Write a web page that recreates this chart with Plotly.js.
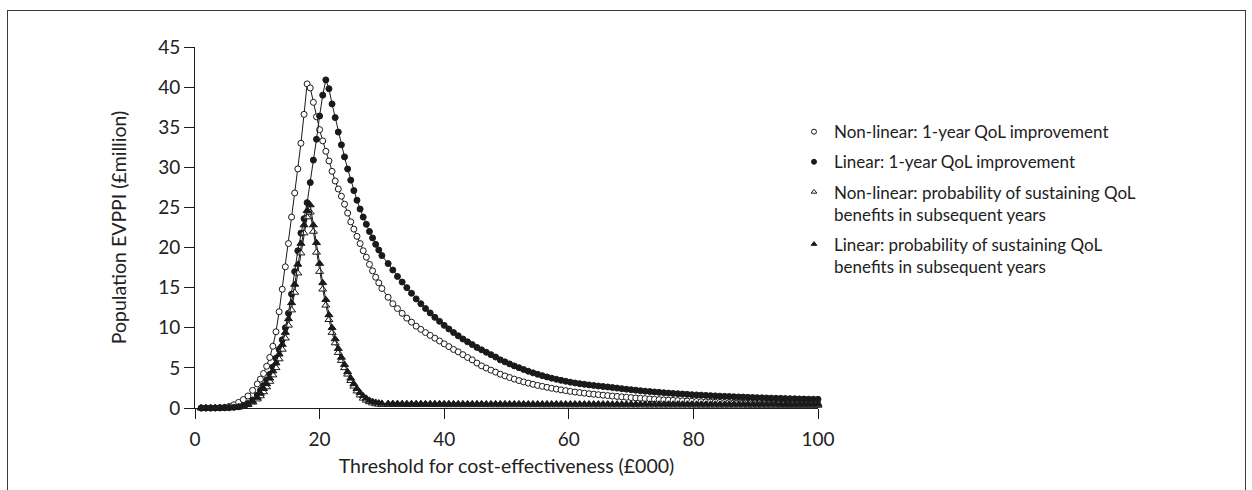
<!DOCTYPE html>
<html>
<head>
<meta charset="utf-8">
<script src="https://cdn.plot.ly/plotly-3.0.1.min.js"></script>
<style>
  html, body { margin: 0; padding: 0; background: #fff; overflow: hidden; }
  #wrap { position: relative; width: 1252px; height: 490px; }
  #chart { width: 1252px; height: 490px; }
  #frame { position: absolute; left: 7px; top: 10px; width: 1237px; height: 500px;
           border: 1px solid #3a3a3a; pointer-events: none; }
</style>
</head>
<body>
<div id="wrap"><div id="chart"></div><div id="frame"></div></div>
<script>
// Threshold for cost-effectiveness (£000)
const thresholds = [
  1, 1.75, 2.5, 3.25, 4, 4.75, 5.5, 6.25, 7, 7.75, 8.5, 9.25, 10,
  10.5, 11, 11.5, 12, 12.5, 13, 13.5, 14, 14.5, 15, 15.5, 16, 16.5, 17, 17.5, 18, 18.5, 19, 19.5, 20,
  20.5, 21, 21.5, 22, 22.5, 23, 23.5, 24, 24.5, 25, 25.5, 26, 26.5, 27, 27.5, 28, 28.5, 29, 29.5, 30,
  31, 31.75, 32.5, 33.25, 34, 34.75, 35.5, 36.25, 37, 37.75,
  38.5, 39.25, 40, 40.75, 41.5, 42.25, 43, 43.75, 44.5, 45.25,
  46, 46.75, 47.5, 48.25, 49, 49.75, 50.5, 51.25, 52, 52.75,
  53.5, 54.25, 55, 55.75, 56.5, 57.25, 58, 58.75, 59.5, 60.25,
  61, 61.75, 62.5, 63.25, 64, 64.75, 65.5, 66.25, 67, 67.75,
  68.5, 69.25, 70, 70.75, 71.5, 72.25, 73, 73.75, 74.5, 75.25,
  76, 76.75, 77.5, 78.25, 79, 79.75, 80.5, 81.25, 82, 82.75,
  83.5, 84.25, 85, 85.75, 86.5, 87.25, 88, 88.75, 89.5, 90.25,
  91, 91.75, 92.5, 93.25, 94, 94.75, 95.5, 96.25, 97, 97.75,
  98.5, 99.25, 100
];

// Non-linear: 1-year QoL improvement (open circles)
const nonLinear1yr = [
  0, 0, 0, 0.01, 0.03, 0.08, 0.2, 0.4, 0.7, 1.05, 1.5, 2.2, 3.0,
  3.6, 4.3, 5.2, 6.3, 7.7, 9.5, 12.0, 14.8, 17.6, 20.5, 23.8, 26.8, 29.8, 33.0, 36.6, 40.4, 39.9, 38.1, 36.3, 34.7,
  33.3, 32.0, 30.8, 29.5, 28.3, 27.3, 26.4, 25.4, 24.3, 23.2, 22.3, 21.4, 20.5, 19.6, 18.8, 17.9, 17.1, 16.3, 15.6, 14.9,
  13.8, 13.0, 12.4, 11.8, 11.2, 10.7, 10.2, 9.8, 9.4, 9.05,
  8.7, 8.35, 8.0, 7.65, 7.3, 7.0, 6.65, 6.3, 6.0, 5.6,
  5.25, 4.98, 4.72, 4.47, 4.22, 4.0, 3.8, 3.6, 3.42, 3.25,
  3.1, 2.95, 2.82, 2.7, 2.58, 2.46, 2.36, 2.26, 2.16, 2.07,
  1.99, 1.92, 1.85, 1.78, 1.72, 1.66, 1.6, 1.55, 1.49, 1.44,
  1.39, 1.34, 1.3, 1.25, 1.21, 1.17, 1.13, 1.09, 1.05, 1.01,
  0.98, 0.95, 0.92, 0.89, 0.86, 0.83, 0.81, 0.78, 0.76, 0.74,
  0.72, 0.70, 0.68, 0.66, 0.64, 0.63, 0.61, 0.60, 0.58, 0.57,
  0.55, 0.54, 0.53, 0.52, 0.51, 0.50, 0.49, 0.48, 0.47, 0.46,
  0.45, 0.44, 0.43
];

// Linear: 1-year QoL improvement (filled circles)
const linear1yr = [
  0, 0, 0, 0, 0.01, 0.02, 0.04, 0.08, 0.15, 0.3, 0.55, 1.0, 1.6,
  2.2, 2.8, 3.5, 4.2, 5.1, 6.2, 7.3, 8.5, 10.0, 11.8, 14.2, 17.0, 19.6, 21.8, 23.6, 25.6, 28.1, 30.9, 33.5, 36.4,
  39.0, 40.9, 39.8, 37.9, 36.2, 34.4, 32.8, 31.3, 29.8, 28.4, 27.1, 25.9, 24.8, 23.8, 22.9, 22.0, 21.2, 20.4, 19.7, 19.0,
  18.0, 17.2, 16.4, 15.7, 15.0, 14.3, 13.6, 13.0, 12.4, 11.85,
  11.3, 10.8, 10.3, 9.85, 9.4, 9.0, 8.6, 8.25, 7.9, 7.55,
  7.25, 6.95, 6.65, 6.35, 6.0, 5.75, 5.5, 5.25, 5.02, 4.8,
  4.58, 4.38, 4.2, 4.03, 3.87, 3.72, 3.58, 3.45, 3.33, 3.22,
  3.12, 3.03, 2.95, 2.88, 2.81, 2.74, 2.68, 2.62, 2.55, 2.48,
  2.41, 2.34, 2.28, 2.22, 2.16, 2.1, 2.05, 2.0, 1.95, 1.9,
  1.86, 1.82, 1.78, 1.74, 1.7, 1.66, 1.63, 1.6, 1.57, 1.54,
  1.51, 1.48, 1.45, 1.43, 1.4, 1.38, 1.36, 1.33, 1.31, 1.29,
  1.27, 1.25, 1.23, 1.21, 1.2, 1.18, 1.16, 1.15, 1.13, 1.12,
  1.1, 1.09, 1.08
];

// Non-linear: probability of sustaining QoL benefits (open triangles)
const nonLinearProb = [
  0, 0, 0, 0, 0, 0.01, 0.02, 0.05, 0.1, 0.2, 0.4, 0.7, 1.1,
  1.5, 2.0, 2.6, 3.3, 4.1, 5.0, 6.1, 7.3, 8.7, 10.3, 12.2, 14.4, 16.8, 19.3, 21.8, 23.8, 24.4, 22.0, 19.4, 17.0,
  14.8, 12.8, 11.0, 9.4, 8.1, 6.9, 5.9, 5.0, 4.2, 3.4, 2.7, 2.1, 1.6, 1.2, 0.95, 0.75, 0.6, 0.5, 0.45, 0.42,
  0.41, 0.41, 0.41, 0.40, 0.40, 0.40, 0.40, 0.40, 0.40, 0.40,
  0.40, 0.40, 0.39, 0.39, 0.39, 0.39, 0.39, 0.39, 0.39, 0.39,
  0.39, 0.39, 0.38, 0.38, 0.38, 0.38, 0.38, 0.38, 0.38, 0.38,
  0.38, 0.38, 0.38, 0.37, 0.37, 0.37, 0.37, 0.37, 0.37, 0.37,
  0.37, 0.37, 0.37, 0.37, 0.36, 0.36, 0.36, 0.36, 0.36, 0.36,
  0.36, 0.36, 0.36, 0.36, 0.36, 0.35, 0.35, 0.35, 0.35, 0.35,
  0.35, 0.35, 0.35, 0.35, 0.35, 0.35, 0.34, 0.34, 0.34, 0.34,
  0.34, 0.34, 0.34, 0.34, 0.34, 0.34, 0.34, 0.33, 0.33, 0.33,
  0.33, 0.33, 0.33, 0.33, 0.33, 0.33, 0.33, 0.33, 0.33, 0.32,
  0.32, 0.32, 0.32
];

// Linear: probability of sustaining QoL benefits (filled triangles)
const linearProb = [
  0, 0, 0, 0, 0.01, 0.02, 0.04, 0.07, 0.13, 0.25, 0.45, 0.8, 1.3,
  1.8, 2.4, 3.0, 3.7, 4.6, 5.6, 6.7, 7.9, 9.4, 11.1, 13.1, 15.4, 17.9, 20.5, 22.8, 24.6, 25.3, 22.8, 20.6, 18.0,
  15.6, 13.5, 11.6, 10.0, 8.6, 7.4, 6.3, 5.4, 4.5, 3.7, 3.0, 2.4, 1.9, 1.5, 1.2, 0.95, 0.8, 0.7, 0.62, 0.57,
  0.55, 0.55, 0.55, 0.54, 0.54, 0.54, 0.54, 0.54, 0.53, 0.53,
  0.53, 0.53, 0.53, 0.53, 0.52, 0.52, 0.52, 0.52, 0.52, 0.52,
  0.52, 0.51, 0.51, 0.51, 0.51, 0.51, 0.51, 0.51, 0.51, 0.50,
  0.50, 0.50, 0.50, 0.50, 0.50, 0.50, 0.50, 0.50, 0.49, 0.49,
  0.49, 0.49, 0.49, 0.49, 0.49, 0.49, 0.49, 0.49, 0.48, 0.48,
  0.48, 0.48, 0.48, 0.48, 0.48, 0.48, 0.48, 0.48, 0.48, 0.47,
  0.47, 0.47, 0.47, 0.47, 0.47, 0.47, 0.47, 0.47, 0.47, 0.47,
  0.47, 0.46, 0.46, 0.46, 0.46, 0.46, 0.46, 0.46, 0.46, 0.46,
  0.46, 0.46, 0.46, 0.46, 0.45, 0.45, 0.45, 0.45, 0.45, 0.45,
  0.45, 0.45, 0.45
];

const seriesNames = [
  'Non-linear: 1-year QoL improvement',
  'Linear: 1-year QoL improvement',
  'Non-linear: probability of sustaining QoL<br>benefits in subsequent years',
  'Linear: probability of sustaining QoL<br>benefits in subsequent years'
];

const xTickVals = [0, 20, 40, 60, 80, 100];
const yTickVals = [0, 5, 10, 15, 20, 25, 30, 35, 40, 45];

const ink = '#1a1a1a';
const styles = [
  {symbol: 'circle', color: '#ffffff', size: 6},
  {symbol: 'circle', color: ink, size: 6},
  {symbol: 'triangle-up', color: '#ffffff', size: 7},
  {symbol: 'triangle-up', color: ink, size: 7}
];
const seriesY = [nonLinear1yr, linear1yr, nonLinearProb, linearProb];

const traces = [];
seriesY.forEach((ys, i) => {
  traces.push({
    type: 'scatter', mode: 'lines+markers',
    x: thresholds, y: ys, name: seriesNames[i], showlegend: false,
    cliponaxis: false,
    line: {color: ink, width: 1},
    marker: {symbol: styles[i].symbol, size: styles[i].size, color: styles[i].color,
             line: {color: ink, width: 1}}
  });
});
// legend-only entries (markers only, like the reference key)
seriesY.forEach((ys, i) => {
  traces.push({
    type: 'scatter', mode: 'markers', x: [null], y: [null], name: seriesNames[i],
    legendgroup: 'g' + i, showlegend: true, hoverinfo: 'skip',
    marker: {symbol: styles[i].symbol, size: 5, color: styles[i].color,
             line: {color: ink, width: 1}}
  });
});

const font = {family: 'Lato, "Open Sans", sans-serif', color: '#222'};

const layout = {
  width: 1252, height: 490,
  margin: {l: 195, r: 434, t: 47, b: 82},
  paper_bgcolor: '#ffffff', plot_bgcolor: '#ffffff',
  font: Object.assign({size: 16}, font),
  showlegend: true,
  legend: {
    x: 0.9615, y: 0.814, xanchor: 'left', yanchor: 'top',
    font: Object.assign({size: 17}, font),
    traceorder: 'grouped', tracegroupgap: 5, valign: 'top',
    bgcolor: 'rgba(0,0,0,0)', borderwidth: 0
  },
  xaxis: {
    range: [0, 100], tickvals: xTickVals, ticktext: xTickVals.map(String),
    showgrid: false, zeroline: false, showline: true, linecolor: ink, linewidth: 1,
    ticks: 'outside', ticklen: 10, tickcolor: ink, tickwidth: 1,
    ticklabelstandoff: 4,
    tickfont: Object.assign({size: 19}, font),
    title: {text: 'Threshold for cost-effectiveness (£000)', font: Object.assign({size: 19.5}, font), standoff: 10},
    automargin: false
  },
  yaxis: {
    range: [0, 45], tickvals: yTickVals, ticktext: yTickVals.map(String),
    showgrid: false, zeroline: false, showline: true, linecolor: ink, linewidth: 1,
    ticks: 'outside', ticklen: 10, tickcolor: ink, tickwidth: 1,
    tickfont: Object.assign({size: 19}, font),
    title: {text: 'Population EVPPI (£million)', font: Object.assign({size: 19.5}, font), standoff: 26},
    automargin: false
  }
};

Plotly.newPlot('chart', traces, layout, {displayModeBar: false, staticPlot: true});
</script>
</body>
</html>
